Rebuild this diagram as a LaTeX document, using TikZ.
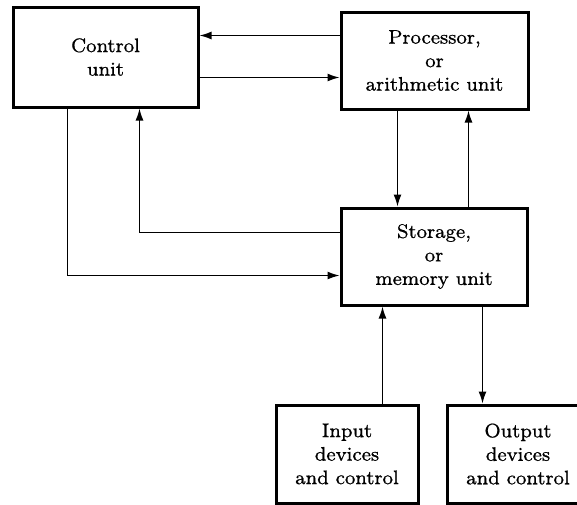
\documentclass[tikz,border=0pt]{standalone}
\usepackage{fontspec}
\newfontfamily\boxfont[FakeBold=0.7]{lmroman8-regular.otf}
\usetikzlibrary{arrows.meta}
\begin{document}
\begin{tikzpicture}[x=1pt,y=-1pt,
  unitbox/.style={draw,line width=3pt,align=center,inner sep=0pt,
    font=\boxfont\fontsize{19.6}{23.5}\selectfont},
  conn/.style={line width=1.3pt},
  arr/.style={conn,-{Latex[length=12pt,width=8pt]}}]
\useasboundingbox (0,0) rectangle (577,504);
\fill[white] (0,0) rectangle (577,504);
\clip (0,0) rectangle (577,504);
\node[unitbox,minimum width=185pt,minimum height=100pt] (ctrl) at (105.5,57) {Control\\unit};
\node[unitbox,minimum width=187pt,minimum height=97pt] (proc) at (434.5,60.5) {Processor,\\or\\arithmetic unit};
\node[unitbox,minimum width=186pt,minimum height=97pt] (stor) at (434,256.5) {Storage,\\or\\memory unit};
\node[unitbox,minimum width=142pt,minimum height=98pt] (inp) at (347,454) {Input\\devices\\and control};
\node[unitbox,minimum width=142pt,minimum height=98pt] (outp) at (518,454) {Output\\devices\\and control};
% coordinates on box borders
\coordinate (p1) at ([yshift=-25pt]proc.north west);
\coordinate (p2) at ([yshift=-67pt]proc.north west);
\coordinate (c1) at ([xshift=56pt]ctrl.south west);
\coordinate (c2) at ([xshift=128pt]ctrl.south west);
\coordinate (p3) at ([xshift=58pt]proc.south west);
\coordinate (p4) at ([xshift=129pt]proc.south west);
\coordinate (s1) at ([yshift=-26pt]stor.north west);
\coordinate (s2) at ([yshift=-69pt]stor.north west);
\coordinate (s3) at ([xshift=43pt]stor.south west);
\coordinate (s4) at ([xshift=143pt]stor.south west);
% connectors
\draw[arr] (p1) -- (p1 -| ctrl.east);
\draw[arr] (p2 -| ctrl.east) -- (p2);
\draw[arr] (p3) -- (p3 |- stor.north);
\draw[arr] (p4 |- stor.north) -- (p4);
\draw[arr] (s1) -| (c2);
\draw[arr] (c1) |- (s2);
\draw[arr] (s3 |- inp.north) -- (s3);
\draw[arr] (s4) -- (s4 |- outp.north);
\end{tikzpicture}
\end{document}
